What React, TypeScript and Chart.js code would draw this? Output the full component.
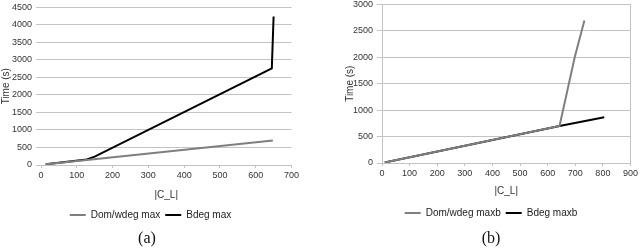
import React, { useEffect, useRef } from "react";
import { Chart, registerables } from "chart.js";
Chart.register(...registerables);

// ---- Data: chart (a) ----
const aDomX = [13, 128, 648];
const aDomY = [20, 145, 700];
const aBdegX = [13, 128, 150, 645, 650];
const aBdegY = [20, 160, 240, 2760, 4240];
const aLabels = ["Dom/wdeg max", "Bdeg max"];
const aXMax = 700;
const aYMax = 4500;

// ---- Data: chart (b) ----
const bDomX = [10, 643, 698, 733];
const bDomY = [10, 700, 2000, 2694];
const bBdegX = [10, 643, 805];
const bBdegY = [10, 700, 866];
const bLabels = ["Dom/wdeg maxb", "Bdeg maxb"];
const bXMax = 900;
const bYMax = 3000;

const xStep = 100;
const yStep = 500;
const xTitle = "|C_L|";
const yTitle = "Time (s)";

const GRAY = "#7f7f7f";
const BLACK = "#000000";
const GRID = "#c3c3c3";
const TEXT = "#333333";
const FONT = "'Liberation Sans', Arial, sans-serif";

function pts(xs: number[], ys: number[]) {
  return xs.map((x, i) => ({ x, y: ys[i] }));
}

type Spec = {
  domX: number[]; domY: number[]; bdegX: number[]; bdegY: number[];
  labels: string[]; xMax: number; yMax: number;
  yWidth: number; xHeight: number; titlePadBottom: number;
  borders: boolean; padTop: number; padRight: number; padBottom: number;
};

function makeConfig(s: Spec): any {
  return {
    type: "line",
    data: {
      datasets: [
        {
          label: s.labels[0],
          data: pts(s.domX, s.domY),
          borderColor: GRAY,
          backgroundColor: GRAY,
          borderWidth: 2,
          pointRadius: 0,
          fill: false,
          tension: 0,
        },
        {
          label: s.labels[1],
          data: pts(s.bdegX, s.bdegY),
          borderColor: BLACK,
          backgroundColor: BLACK,
          borderWidth: 2,
          pointRadius: 0,
          fill: false,
          tension: 0,
        },
      ],
    },
    options: {
      animation: false,
      responsive: false,
      maintainAspectRatio: false,
      layout: { padding: { top: s.padTop, right: s.padRight, bottom: s.padBottom, left: 0 } },
      plugins: {
        tooltip: { enabled: false },
        legend: {
          position: "bottom",
          labels: {
            usePointStyle: true,
            pointStyle: "line",
            pointStyleWidth: 16,
            boxHeight: 10,
            padding: 5,
            color: "#222222",
            font: { family: FONT, size: 10 },
          },
        },
      },
      scales: {
        x: {
          type: "linear",
          min: 0,
          max: s.xMax,
          ticks: {
            stepSize: xStep, color: TEXT, padding: 2, maxRotation: 0,
            font: { family: FONT, size: 9 },
            callback: (v: any) => String(v),
          },
          grid: {
            color: (c: any) =>
              s.borders && c.tick && c.tick.value === s.xMax ? GRID : "rgba(0,0,0,0)",
            tickColor: GRID,
            tickLength: 3,
            drawOnChartArea: true,
          },
          border: { display: false },
          title: {
            display: true,
            text: xTitle,
            color: TEXT,
            font: { family: FONT, size: 10 },
            padding: { top: 0, bottom: s.titlePadBottom },
          },
          afterFit: (scale: any) => { scale.height = s.xHeight; },
        },
        y: {
          type: "linear",
          min: 0,
          max: s.yMax,
          ticks: {
            stepSize: yStep, color: TEXT, padding: 4,
            font: { family: FONT, size: 9 },
            callback: (v: any) => String(v),
          },
          grid: { color: GRID, tickColor: GRID, tickLength: 5 },
          border: { display: s.borders, color: GRID },
          title: {
            display: true,
            text: yTitle,
            color: TEXT,
            font: { family: FONT, size: 10 },
            padding: 0,
          },
          afterFit: (scale: any) => { scale.width = s.yWidth; },
        },
      },
    },
  };
}

function ChartBox(props: { spec: Spec; left: number; top: number; width: number; height: number }) {
  const ref = useRef<HTMLCanvasElement | null>(null);
  useEffect(() => {
    if (!ref.current) return;
    const chart = new Chart(ref.current, makeConfig(props.spec));
    return () => chart.destroy();
  }, []);
  return (
    <canvas
      ref={ref}
      width={props.width}
      height={props.height}
      style={{ position: "absolute", left: props.left, top: props.top, width: props.width, height: props.height }}
    />
  );
}

const specA: Spec = {
  domX: aDomX, domY: aDomY, bdegX: aBdegX, bdegY: aBdegY, labels: aLabels,
  xMax: aXMax, yMax: aYMax, yWidth: 41, xHeight: 40, titlePadBottom: 4,
  borders: false, padTop: 6, padRight: 0, padBottom: 0,
};
const specB: Spec = {
  domX: bDomX, domY: bDomY, bdegX: bBdegX, bdegY: bBdegY, labels: bLabels,
  xMax: bXMax, yMax: bYMax, yWidth: 38, xHeight: 40, titlePadBottom: 6,
  borders: true, padTop: 4, padRight: 2, padBottom: 0,
};

export default function App() {
  useEffect(() => {
    document.body.style.margin = "0";
  }, []);
  const cap: React.CSSProperties = {
    position: "absolute",
    top: 228,
    width: 40,
    textAlign: "center",
    fontFamily: "'Liberation Serif', serif",
    fontSize: 16,
    lineHeight: "20px",
    color: "#111",
  };
  return (
    <div style={{ position: "fixed", left: 0, top: 0, width: 640, height: 248, background: "#fff", overflow: "hidden" }}>
      <ChartBox spec={specA} left={0} top={-2} width={301} height={232} />
      <ChartBox spec={specB} left={344} top={-5} width={296} height={233} />
      <div style={{ ...cap, left: 147 - 20 }}>(a)</div>
      <div style={{ ...cap, left: 491 - 20 }}>(b)</div>
    </div>
  );
}
